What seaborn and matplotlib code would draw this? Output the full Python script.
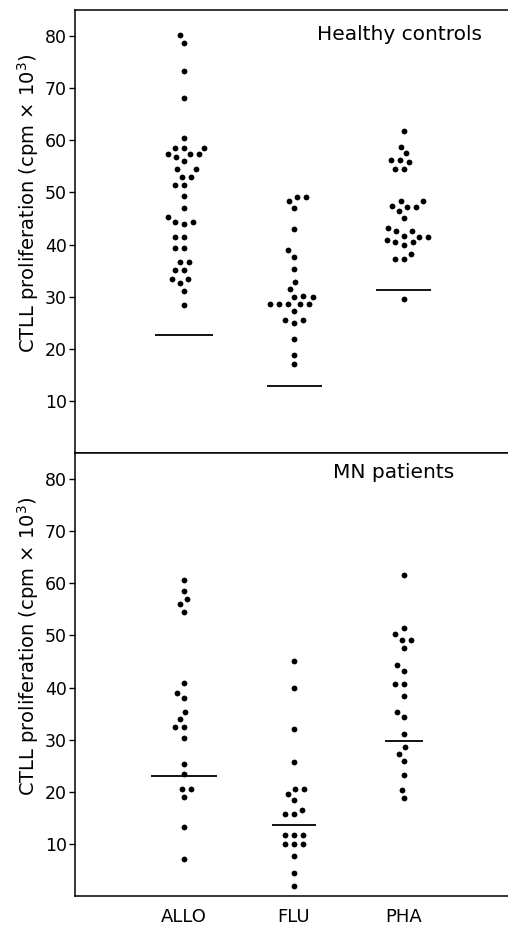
import numpy as np
import pandas as pd
import matplotlib
matplotlib.use("Agg")
import matplotlib.pyplot as plt
import seaborn as sns

stimuli = ["ALLO", "FLU", "PHA"]
panel_titles = ["Healthy controls", "MN patients"]
y_label = "CTLL proliferation (cpm $\\times$ 10$^{3}$)"
y_ticks = [10, 20, 30, 40, 50, 60, 70, 80]

# healthy controls, values (cpm x 10^3)
hc_allo = [80.2, 78.7, 73.3, 68.2, 60.4, 58.6, 58.6, 58.6, 57.3, 57.3, 57.3, 56.8,
           56.0, 54.4, 54.4, 53.0, 53.0, 51.4, 51.4, 49.3, 47.1, 45.3, 44.4, 44.4,
           43.9, 41.4, 41.4, 39.3, 39.3, 36.6, 36.6, 35.1, 35.1, 33.3, 33.3, 32.6,
           31.1, 28.4]
hc_flu = [49.2, 49.2, 48.4, 47.0, 43.0, 38.9, 37.6, 35.3, 32.8, 31.4, 30.1, 29.9,
          29.9, 28.5, 28.5, 28.5, 28.5, 28.5, 27.2, 25.5, 25.5, 25.0, 21.8, 18.8, 17.0]
hc_pha = [61.8, 58.8, 57.5, 56.3, 56.3, 55.8, 54.4, 54.4, 48.4, 48.4, 47.4, 47.2,
          47.2, 46.5, 45.1, 43.2, 42.6, 42.6, 41.7, 41.5, 41.5, 40.8, 40.4, 40.4,
          39.9, 38.2, 37.2, 37.2, 29.5]

# MN patients
mn_allo = [60.6, 58.6, 57.0, 56.0, 54.5, 40.8, 38.9, 37.9, 35.3, 33.9, 32.4, 32.4,
           30.3, 25.3, 23.4, 20.5, 20.5, 18.9, 13.2, 7.1]
mn_flu = [45.0, 40.0, 32.1, 25.7, 20.5, 20.5, 19.6, 18.4, 16.5, 15.7, 15.7, 11.7,
          11.7, 11.7, 10.0, 10.0, 10.0, 7.7, 4.4, 2.0]
mn_pha = [61.5, 51.4, 50.2, 49.1, 49.1, 47.5, 44.3, 43.2, 40.7, 40.7, 38.4, 35.4,
          34.3, 31.0, 28.5, 27.3, 25.9, 23.2, 20.4, 18.8]

# horizontal bars (cut-off lines) per stimulus
hc_lines = [22.6, 12.8, 31.3]
mn_lines = [23.1, 13.6, 29.8]


def long_df(allo, flu, pha):
    parts = []
    for name, vals in zip(stimuli, [allo, flu, pha]):
        parts.append(pd.DataFrame({"stim": name, "cpm": vals}))
    return pd.concat(parts, ignore_index=True)


panels = [
    (long_df(hc_allo, hc_flu, hc_pha), hc_lines, [0.26, 0.25, 0.25]),
    (long_df(mn_allo, mn_flu, mn_pha), mn_lines, [0.30, 0.20, 0.17]),
]

sns.set_style("ticks")
plt.rcParams['font.family'] = ['DejaVu Sans']
plt.rcParams['text.color'] = 'black'
plt.rcParams['axes.labelcolor'] = 'black'
plt.rcParams['xtick.color'] = 'black'
plt.rcParams['ytick.color'] = 'black'

fig = plt.figure(figsize=(5.08, 9.26), dpi=100)
ax_top = fig.add_axes([0.148, 0.5108, 0.852, 0.4784])
ax_bot = fig.add_axes([0.148, 0.0324, 0.852, 0.4784])
axes = [ax_top, ax_bot]

for ax, (df, lines, half_w), title in zip(axes, panels, panel_titles):
    sns.swarmplot(data=df, x="stim", y="cpm", order=stimuli, color="black",
                  size=5.2, linewidth=1.0, edgecolor="white", ax=ax, zorder=2)
    for i, (val, hw) in enumerate(zip(lines, half_w)):
        ax.hlines(val, i - hw, i + hw, color="black", lw=1.3, zorder=4)

    ax.set_xlim(-0.99, 2.946)
    ax.set_ylim(0, 85)
    ax.set_yticks(y_ticks)
    ax.set_xlabel("")
    ax.set_ylabel(y_label, fontsize=14)
    ax.yaxis.set_label_coords(-0.078, 0.565)
    ax.tick_params(axis="y", length=4, width=1, pad=2, labelsize=12.5, direction="out")
    ax.tick_params(axis="x", length=0, pad=9, labelsize=13)
    for side in ["top", "left", "bottom"]:
        ax.spines[side].set_linewidth(1.1)
        ax.spines[side].set_color("black")
    ax.spines["right"].set_visible(False)

ax_top.tick_params(axis="x", labelbottom=False)
ax_top.text(0.559, 0.944, panel_titles[0], transform=ax_top.transAxes,
            fontsize=14.5, ha="left", va="center")
ax_bot.text(0.596, 0.955, panel_titles[1], transform=ax_bot.transAxes,
            fontsize=14.5, ha="left", va="center")

fig.savefig("out.png", dpi=100)
